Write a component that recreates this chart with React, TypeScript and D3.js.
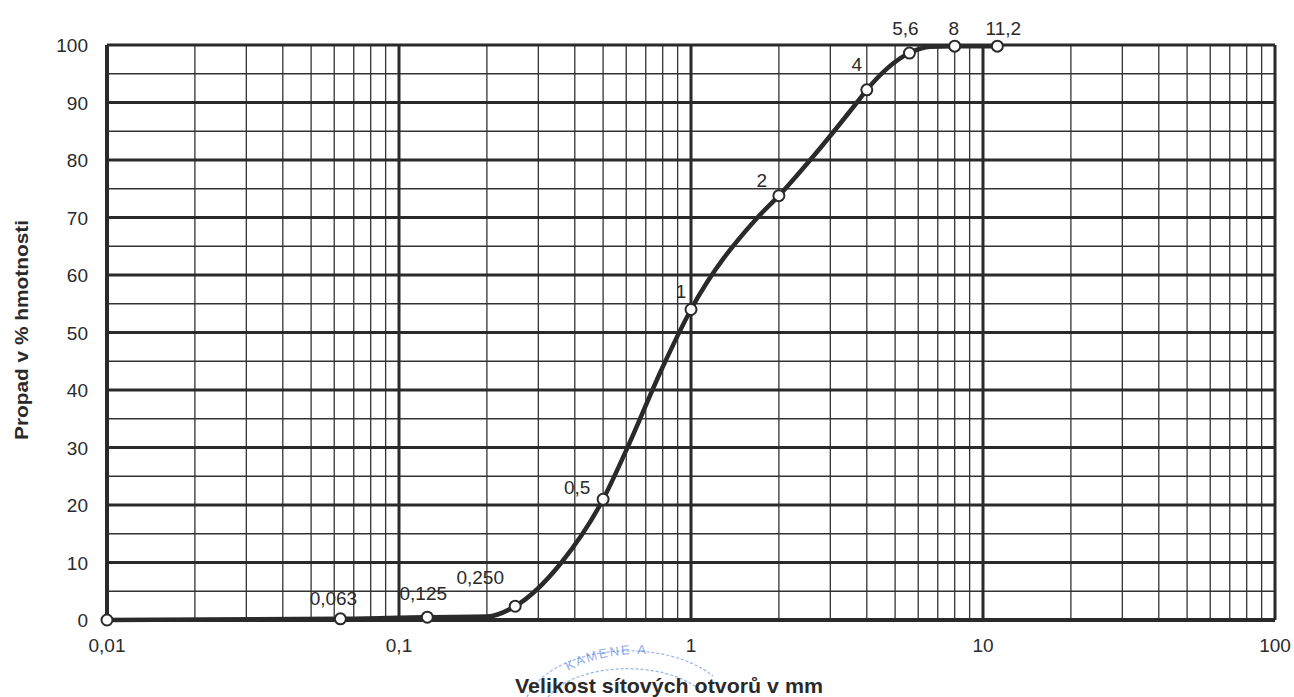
import * as d3 from "d3";
import React from "react";

// sieve sizes (mm) and passing percentages
const sieves = [0.01, 0.063, 0.125, 0.25, 0.5, 1, 2, 4, 5.6, 8, 11.2];
const passing = [0, 0.2, 0.5, 2.4, 21, 54, 73.8, 92.2, 98.6, 99.8, 99.8];
const pointLabels = ["", "0,063", "0,125", "0,250", "0,5", "1", "2", "4", "5,6", "8", "11,2"];
const curveX = [0.01, 0.063, 0.125, 0.2, 0.25, 0.36, 0.5, 0.6, 0.8, 1, 1.69, 2, 2.56, 3.7, 4, 5.6, 6.6, 8, 11.2];
const curveY = [0, 0.2, 0.5, 0.6, 2.4, 10, 21, 29.5, 44, 54, 70, 73.8, 80, 90, 92.2, 98.6, 99.7, 99.8, 99.8];

const xTickValues = [0.01, 0.1, 1, 10, 100];
const xTickLabels = ["0,01", "0,1", "1", "10", "100"];
const yTickValues = [0, 10, 20, 30, 40, 50, 60, 70, 80, 90, 100];

const App = () => {
    const width = 1294;
    const height = 697;
    const left = 107, right = 1275, top = 45, bottom = 620;

    const xScale = d3.scaleLog().domain([0.01, 100]).range([left, right]);
    const yScale = d3.scaleLinear().domain([0, 100]).range([bottom, top]);

    // minor vertical lines 2..9 in each decade
    const minorX: number[] = [];
    [0.01, 0.1, 1, 10].forEach(d => {
        for (let k = 2; k <= 9; k++) minorX.push(d * k);
    });
    const minorY = d3.range(5, 100, 10);

    const line = d3.line<number>()
        .x((_, i) => xScale(curveX[i]))
        .y(d => yScale(d))
        .curve(d3.curveMonotoneX);

    // label offsets from each point (dx, dy of baseline centre)
    const labelPos = [
        [0, 0], [-7, -14], [-4, -17], [-35, -22], [-26, -5], [-10, -12], [-17, -9], [-10, -19], [-4, -18], [-1, -11], [6, -11],
    ];

    const font = "Arial, 'Liberation Sans', sans-serif";
    const ink = "#2a2a2a";

    return (
        <svg width={width} height={height} style={{ position: "absolute", left: 0, top: 0, background: "#fff" }}>
            <g fontFamily={font} fill={ink}>
                {/* minor grid */}
                {minorX.map(v => (
                    <line key={"mx" + v} x1={xScale(v)} x2={xScale(v)} y1={top} y2={bottom}
                        stroke="#333" strokeWidth={1.3} />
                ))}
                {minorY.map(v => (
                    <line key={"my" + v} x1={left} x2={right} y1={yScale(v)} y2={yScale(v)}
                        stroke="#333" strokeWidth={1.3} />
                ))}
                {/* major grid */}
                {xTickValues.map(v => (
                    <line key={"Mx" + v} x1={xScale(v)} x2={xScale(v)} y1={top} y2={bottom}
                        stroke={ink} strokeWidth={v === 0.01 ? 4 : 3} />
                ))}
                {yTickValues.map(v => (
                    <line key={"My" + v} x1={left} x2={right} y1={yScale(v)} y2={yScale(v)}
                        stroke={ink} strokeWidth={v === 0 ? 4 : 3} />
                ))}

                {/* y tick labels */}
                {yTickValues.map(v => (
                    <text key={"yl" + v} x={88} y={yScale(v) + 7} textAnchor="end" fontSize={19}>{v}</text>
                ))}
                {/* x tick labels */}
                {xTickValues.map((v, i) => (
                    <text key={"xl" + v} x={xScale(v)} y={652} textAnchor="middle" fontSize={19}>{xTickLabels[i]}</text>
                ))}

                {/* stamp remnant */}
                <g opacity={0.55} fill="none" stroke="#4a78dc" strokeWidth={1.2} strokeDasharray="3 2">
                    <path d="M 527 697 A 105 62 0 0 1 713 676" />
                    <path d="M 548 697 A 86 46 0 0 1 700 690" />
                </g>
                <path id="stampArc" d="M 568 671 Q 610 648 672 656" fill="none" />
                <text fontSize={13} fill="#4a78dc" opacity={0.6} letterSpacing={2}>
                    <textPath href="#stampArc">KAMENE A</textPath>
                </text>

                {/* curve */}
                <path d={line(curveY) || ""} fill="none" stroke={ink} strokeWidth={4.5} strokeLinejoin="round" />
                {sieves.map((s, i) => (
                    <circle key={"p" + s} cx={xScale(s)} cy={yScale(passing[i])} r={5.5}
                        fill="#fff" stroke={ink} strokeWidth={2} />
                ))}
                {sieves.map((s, i) => pointLabels[i] ? (
                    <text key={"t" + s} x={xScale(s) + labelPos[i][0]} y={yScale(passing[i]) + labelPos[i][1]}
                        textAnchor="middle" fontSize={19}>{pointLabels[i]}</text>
                ) : null)}

                {/* axis titles */}
                <text x={669} y={693} textAnchor="middle" fontSize={21} fontWeight="bold"
                    textLength={308} lengthAdjust="spacingAndGlyphs">Velikost sítových otvorů v mm</text>
                <text transform="translate(28,330) rotate(-90)" textAnchor="middle" fontSize={18} fontWeight="bold"
                    textLength={220} lengthAdjust="spacingAndGlyphs">Propad v % hmotnosti</text>
            </g>
        </svg>
    );
};

export default App;
